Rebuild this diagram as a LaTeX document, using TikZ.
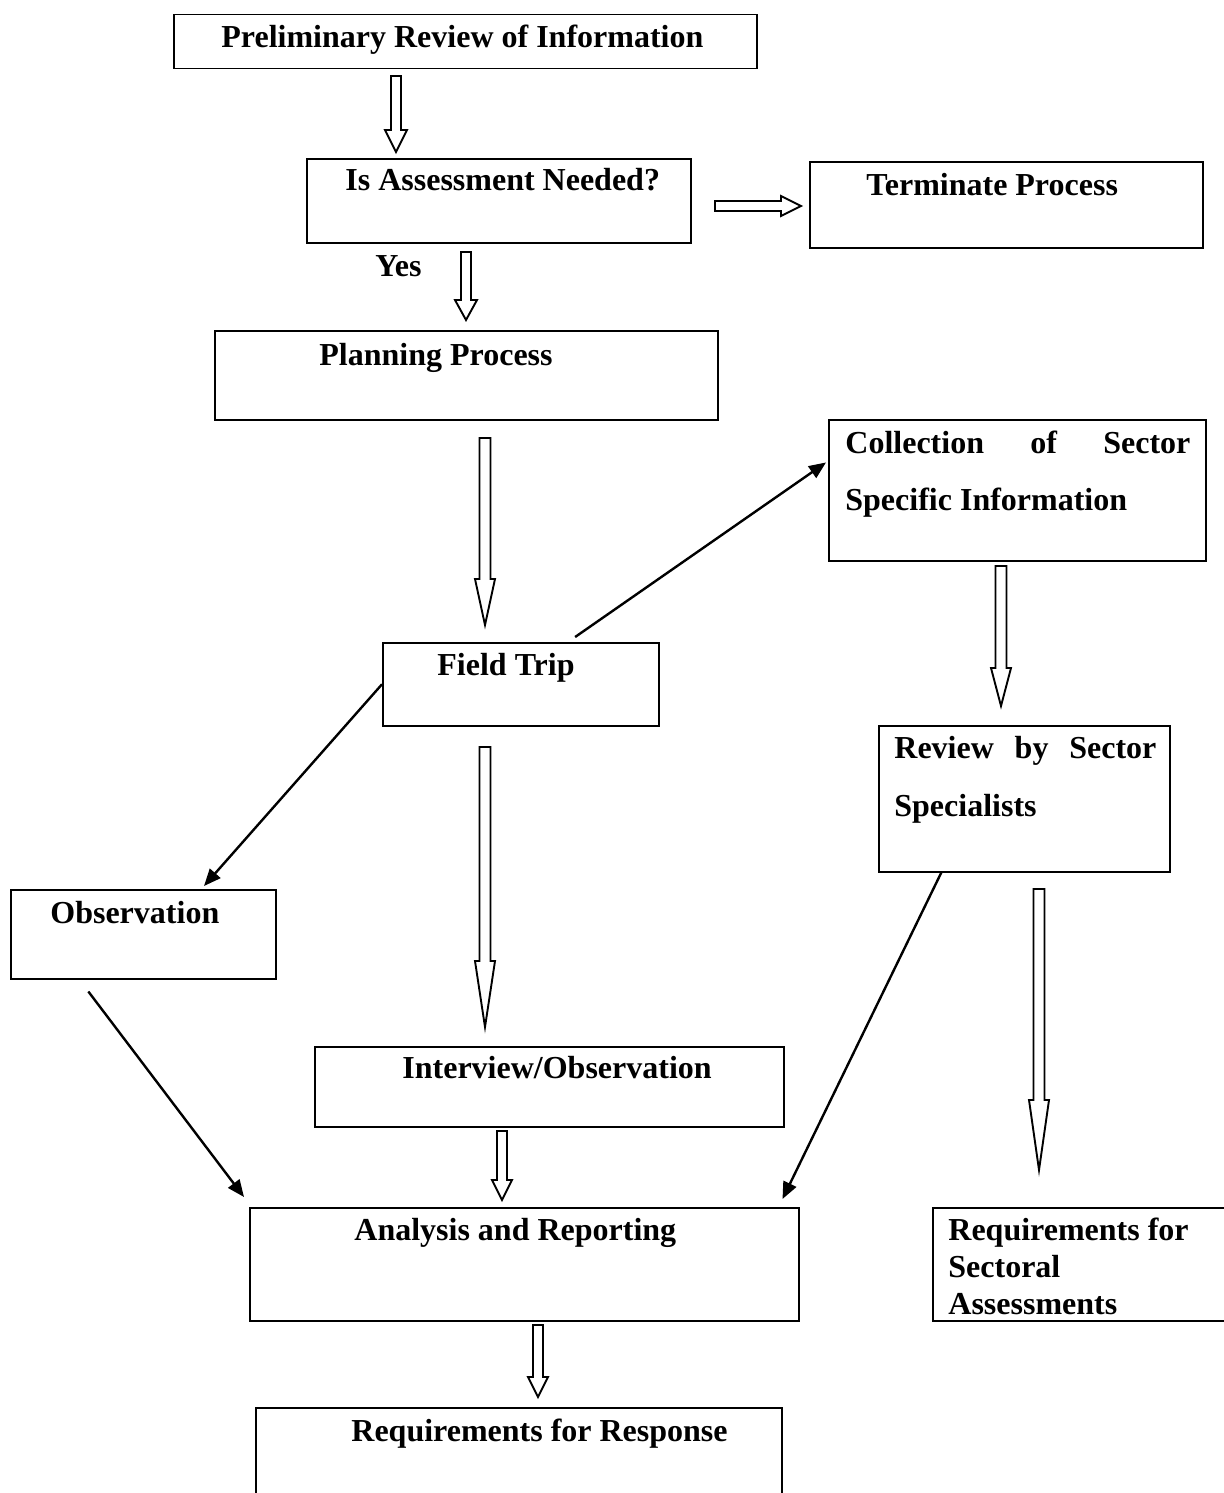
\documentclass[tikz,border=0pt]{standalone}
\usepackage{fontspec}
\setmainfont{Liberation Serif}
\usetikzlibrary{calc,arrows.meta}
\newcommand\harrow[5]{%
  \coordinate (hb) at ($(#2)!#5!(#1)$);
  \draw[hollow] ($(#1)!#3!90:(#2)$) -- ($(hb)!#3!90:(#2)$) -- ($(hb)!#4!90:(#2)$) -- (#2)
    -- ($(hb)!#4!-90:(#2)$) -- ($(hb)!#3!-90:(#2)$) -- ($(#1)!#3!-90:(#2)$) -- cycle;}
\begin{document}
\begin{tikzpicture}[x=0.5pt,y=-0.5pt,
  box/.style={draw, line width=0.75pt, inner sep=0pt, anchor=north west},
  txt/.style={font=\fontsize{16}{19}\selectfont\bfseries, inner sep=0pt, anchor=base west},
  hollow/.style={draw, line width=0.95pt, line join=miter, fill=white},
  solid/.style={draw, line width=1.2pt, -{Triangle[length=8.5pt,width=7pt]}}]
\useasboundingbox (0,0) rectangle (1224,1493);
\clip (0,0) rectangle (1224,1493);

% boxes
\node[box, minimum width=291.5pt, minimum height=27pt]   (prelim) at (173,14) {};
\node[box, minimum width=192pt,   minimum height=42pt]   (need)   at (306,158) {};
\node[box, minimum width=196.5pt, minimum height=43pt]   (term)   at (809,161) {};
\node[box, minimum width=251.5pt, minimum height=44.5pt] (plan)   at (214,330) {};
\node[box, minimum width=188.5pt, minimum height=70.5pt] (coll)   at (828,419) {};
\node[box, minimum width=138pt,   minimum height=41.5pt] (field)  at (382,642) {};
\node[box, minimum width=145.5pt, minimum height=73pt]   (rev)    at (878,725) {};
\node[box, minimum width=132.5pt, minimum height=44.5pt] (obs)    at (10,889) {};
\node[box, minimum width=234.5pt, minimum height=40pt]   (inter)  at (314,1046) {};
\node[box, minimum width=274.5pt, minimum height=56.5pt] (anal)   at (249,1207) {};
\node[box, minimum width=160pt,   minimum height=56.5pt] (rsect)  at (932,1207) {};
\node[box, minimum width=263pt,   minimum height=60pt]   (rresp)  at (255,1407) {};

% texts
\node[txt] (tprelim) at (221,48)  {Preliminary Review of Information};
\node[txt] (tneed)   at (345,190) {Is Assessment Needed?};
\node[txt] (tterm)   at (866,195) {Terminate Process};
\node[txt] (tyes)    at (375,276) {Yes};
\node[txt] (tplan)   at (319,365) {Planning Process};
\node[txt] (tcoll1)  at (845,453) {\makebox[172.5pt][s]{Collection of Sector}};
\node[txt] (tcoll2)  at (845,510) {Specific Information};
\node[txt] (tfield)  at (437,675) {Field Trip};
\node[txt] (trev1)   at (894,758) {\makebox[131pt][s]{Review by Sector}};
\node[txt] (trev2)   at (894,816) {Specialists};
\node[txt] (tobs)    at (50,923)  {Observation};
\node[txt] (tinter)  at (402,1078) {Interview/Observation};
\node[txt] (tanal)   at (354,1240) {Analysis and Reporting};
\node[txt] (trs1)    at (948,1240) {Requirements for};
\node[txt] (trs2)    at (948,1277) {Sectoral};
\node[txt] (trs3)    at (948,1314) {Assessments};
\node[txt] (trresp)  at (351,1441) {Requirements for Response};

% hollow arrows
\coordinate (a1s) at (396,76);   \coordinate (a1e) at (396,152);
\coordinate (a2s) at (715,206);  \coordinate (a2e) at (801,206);
\coordinate (a3s) at (466,252);  \coordinate (a3e) at (466,320);
\coordinate (a4s) at (485,438);  \coordinate (a4e) at (485,625);
\coordinate (a5s) at (1001,566); \coordinate (a5e) at (1001,706);
\coordinate (a6s) at (485,747);  \coordinate (a6e) at (485,1027);
\coordinate (a7s) at (1039,889); \coordinate (a7e) at (1039,1170);
\coordinate (a8s) at (502,1131); \coordinate (a8e) at (502,1200);
\coordinate (a9s) at (538,1325); \coordinate (a9e) at (538,1397);
\harrow{a1s}{a1e}{2.5pt}{5.5pt}{11pt}
\harrow{a2s}{a2e}{2.5pt}{5pt}{10pt}
\harrow{a3s}{a3e}{2.5pt}{5.5pt}{10pt}
\harrow{a4s}{a4e}{2.75pt}{5pt}{23pt}
\harrow{a5s}{a5e}{2.75pt}{5pt}{19pt}
\harrow{a6s}{a6e}{2.75pt}{5pt}{33pt}
\harrow{a7s}{a7e}{2.75pt}{5pt}{35pt}
\harrow{a8s}{a8e}{2.5pt}{5pt}{10pt}
\harrow{a9s}{a9e}{2.5pt}{5pt}{10pt}

% solid arrows
\draw[solid] ($(field.north west)!0.696!(field.north east)+(0,-5)$) -- ($(coll.north west)!0.305!(coll.south west)+(-2,0)$);
\draw[solid] (field.west) -- ($(obs.north west)!0.728!(obs.north east)+(0,-3)$);
\draw[solid] ($(obs.south west)!0.294!(obs.south east)+(0,12)$) -- ($(anal.north west)+(-5,-10)$);
\draw[solid] ($(rev.south west)!0.2165!(rev.south east)$) -- ($(anal.north east)+(-17,-8)$);
\end{tikzpicture}
\end{document}
